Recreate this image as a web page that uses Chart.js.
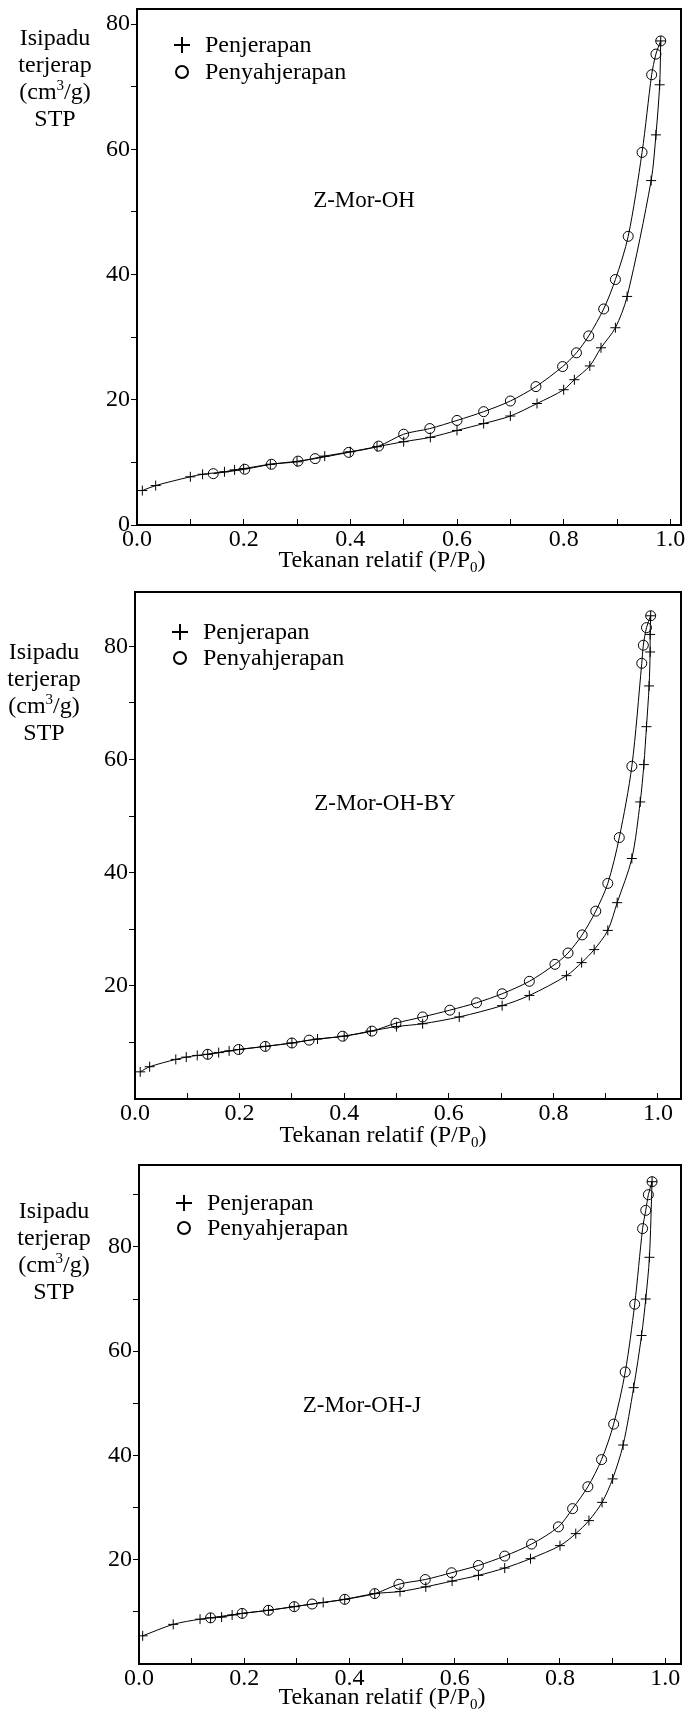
<!DOCTYPE html>
<html>
<head>
<meta charset="utf-8">
<script src="https://cdn.jsdelivr.net/npm/chart.js@4.4.0/dist/chart.umd.min.js"></script>
<style>
  body { margin: 0; background: #fff; }
  #page { position: relative; width: 687px; height: 1711px; font-family: "Liberation Serif", "Times New Roman", serif; color: #000; }
  .panel { position: absolute; left: 0; width: 687px; }
  .ytitle { position: absolute; width: 110px; margin-left: -55px; font-size: 24px; line-height: 27px; text-align: center; }
  .xtitle, .note { position: absolute; font-size: 24px; white-space: nowrap; transform: translate(-50%, -50%); }
  .note { font-size: 23px; }
  sup, sub { font-size: 15px; line-height: 0; }
</style>
</head>
<body>
<div id="page"></div>
<script>
// series names and sample names
const seriesNames = ["Penjerapan", "Penyahjerapan"];
const sampleNames = ["Z-Mor-OH", "Z-Mor-OH-BY", "Z-Mor-OH-J"];

// x axis ticks (P/P0)
const xTickValues = [0, 0.1, 0.2, 0.3, 0.4, 0.5, 0.6, 0.7, 0.8, 0.9, 1.0];
const xTickLabels = ["0.0", "", "0.2", "", "0.4", "", "0.6", "", "0.8", "", "1.0"];

// y axis ticks per panel
const yTicks1 = [0, 10, 20, 30, 40, 50, 60, 70, 80];
const yLabels1 = ["0", "", "20", "", "40", "", "60", "", "80"];
const yTicks2 = [10, 20, 30, 40, 50, 60, 70, 80];
const yLabels2 = ["", "20", "", "40", "", "60", "", "80"];
const yTicks3 = [10, 20, 30, 40, 50, 60, 70, 80, 90];
const yLabels3 = ["", "20", "", "40", "", "60", "", "80", ""];

// Z-Mor-OH
const ads1P = [0.01, 0.035, 0.1, 0.123, 0.164, 0.183, 0.2, 0.25, 0.3, 0.352, 0.4, 0.45, 0.5, 0.55, 0.6, 0.65, 0.7, 0.75, 0.8, 0.82, 0.849, 0.87, 0.897, 0.919, 0.964, 0.973, 0.98, 0.982];
const ads1V = [5.5, 6.3, 7.7, 8.1, 8.5, 8.8, 9.0, 9.7, 10.1, 11.0, 11.7, 12.5, 13.3, 14.0, 15.1, 16.2, 17.4, 19.4, 21.6, 23.2, 25.4, 28.3, 31.5, 36.5, 55.0, 62.3, 70.3, 77.3];
const des1P = [0.982, 0.973, 0.965, 0.947, 0.921, 0.897, 0.875, 0.847, 0.824, 0.798, 0.748, 0.7, 0.65, 0.6, 0.549, 0.5, 0.453, 0.397, 0.334, 0.302, 0.252, 0.202, 0.143];
const des1V = [77.3, 75.2, 71.9, 59.5, 46.1, 39.2, 34.5, 30.2, 27.5, 25.3, 22.1, 19.8, 18.1, 16.7, 15.4, 14.5, 12.6, 11.6, 10.6, 10.2, 9.7, 8.9, 8.2];

// Z-Mor-OH-BY
const ads2P = [0.01, 0.028, 0.078, 0.098, 0.119, 0.139, 0.16, 0.18, 0.2, 0.25, 0.3, 0.349, 0.4, 0.45, 0.5, 0.55, 0.62, 0.702, 0.754, 0.825, 0.854, 0.878, 0.904, 0.922, 0.95, 0.966, 0.973, 0.978, 0.983, 0.985, 0.985, 0.986];
const ads2V = [4.8, 5.7, 7.0, 7.4, 7.7, 7.9, 8.2, 8.5, 8.75, 9.3, 9.9, 10.6, 11.1, 12.0, 12.8, 13.3, 14.5, 16.5, 18.3, 21.8, 24.1, 26.4, 29.8, 34.7, 42.5, 52.5, 59.1, 65.8, 73.0, 79.0, 82.1, 85.4];
const des2P = [0.986, 0.978, 0.972, 0.969, 0.95, 0.926, 0.904, 0.881, 0.855, 0.828, 0.803, 0.754, 0.702, 0.653, 0.602, 0.55, 0.499, 0.453, 0.397, 0.333, 0.3, 0.249, 0.198, 0.139];
const des2V = [85.4, 83.3, 80.2, 77.0, 58.8, 46.2, 38.1, 33.2, 29.0, 25.8, 23.8, 20.8, 18.6, 17.0, 15.7, 14.5, 13.4, 12.0, 11.1, 10.4, 9.9, 9.3, 8.75, 7.9];

// Z-Mor-OH-J
const ads3P = [0.007, 0.065, 0.116, 0.136, 0.157, 0.177, 0.196, 0.246, 0.295, 0.35, 0.391, 0.448, 0.496, 0.545, 0.595, 0.645, 0.695, 0.744, 0.8, 0.83, 0.855, 0.88, 0.9, 0.92, 0.94, 0.955, 0.963, 0.97, 0.975];
const ads3V = [5.4, 7.6, 8.6, 8.85, 9.0, 9.4, 9.7, 10.3, 11.0, 11.8, 12.4, 13.5, 13.9, 14.8, 15.9, 17.0, 18.4, 20.2, 22.7, 25.0, 27.5, 31.0, 35.5, 42.0, 53.0, 63.0, 70.0, 78.0, 92.5];
const des3P = [0.975, 0.968, 0.963, 0.957, 0.942, 0.924, 0.902, 0.879, 0.853, 0.824, 0.797, 0.746, 0.695, 0.645, 0.594, 0.544, 0.494, 0.448, 0.391, 0.329, 0.295, 0.246, 0.196, 0.136];
const des3V = [92.5, 90.0, 87.0, 83.5, 69.0, 56.0, 46.0, 39.2, 34.0, 29.8, 26.3, 23.0, 20.7, 18.9, 17.5, 16.2, 15.3, 13.5, 12.4, 11.5, 11.0, 10.3, 9.7, 8.85];

const FONT = "'Liberation Serif', 'Times New Roman', serif";

// layout of the three panels (positions in page px)
const panels = [
  { name: sampleNames[0], ads: [ads1P, ads1V], des: [des1P, des1V], yTicks: yTicks1, yLabels: yLabels1,
    top: 0, height: 570, padTop: 9, xAxisH: 45, yAxisW: 137, xMax: 1.02, yMin: 0, yMax: 82.4,
    yTitle: { x: 55, y: 24 }, xTitle: { x: 382, y: 559 }, note: { x: 364, y: 200 }, legendRows: [36, 63] },
  { name: sampleNames[1], ads: [ads2P, ads2V], des: [des2P, des2V], yTicks: yTicks2, yLabels: yLabels2,
    top: 583, height: 560, padTop: 9, xAxisH: 44, yAxisW: 135, xMax: 1.044, yMin: 0, yMax: 89.6,
    yTitle: { x: 44, y: 638 }, xTitle: { x: 383, y: 1134 }, note: { x: 385, y: 803 }, legendRows: [40, 66] },
  { name: sampleNames[2], ads: [ads3P, ads3V], des: [des3P, des3V], yTicks: yTicks3, yLabels: yLabels3,
    top: 1156, height: 555, padTop: 9, xAxisH: 47, yAxisW: 139, xMax: 1.03, yMin: 0, yMax: 95.7,
    yTitle: { x: 54, y: 1197 }, xTitle: { x: 382, y: 1696 }, note: { x: 362, y: 1405 }, legendRows: [38, 63] }
];

function toPoints(xs, ys) {
  return xs.map((x, i) => ({ x: x, y: ys[i] }));
}

// frame round the plot area
const boxPlugin = {
  id: "box",
  afterDraw(chart) {
    const { ctx, chartArea: a } = chart;
    ctx.save();
    ctx.strokeStyle = "#000";
    ctx.lineWidth = 2;
    ctx.strokeRect(a.left, a.top, a.right - a.left, a.bottom - a.top);
    ctx.restore();
  }
};

// legend drawn inside the plot, top left
const innerLegend = {
  id: "innerLegend",
  afterDraw(chart, args, opts) {
    const { ctx, chartArea: a } = chart;
    ctx.save();
    ctx.strokeStyle = "#000";
    ctx.lineWidth = 2;
    ctx.font = "24px " + FONT;
    ctx.textBaseline = "middle";
    chart.data.datasets.forEach((ds, i) => {
      const cx = a.left + 45;
      const cy = a.top + opts.rows[i];
      ctx.beginPath();
      if (ds.pointStyle === "cross") {
        ctx.moveTo(cx - 8, cy); ctx.lineTo(cx + 8, cy);
        ctx.moveTo(cx, cy - 8); ctx.lineTo(cx, cy + 8);
      } else {
        ctx.arc(cx, cy, 6, 0, Math.PI * 2);
      }
      ctx.stroke();
      ctx.fillStyle = "#000";
      ctx.fillText(ds.label, a.left + 68, cy + 1);
    });
    ctx.restore();
  }
};

const page = document.getElementById("page");

panels.forEach((p) => {
  const wrap = document.createElement("div");
  wrap.className = "panel";
  wrap.style.top = p.top + "px";
  wrap.style.height = p.height + "px";
  const canvas = document.createElement("canvas");
  wrap.appendChild(canvas);
  page.appendChild(wrap);

  const yt = document.createElement("div");
  yt.className = "ytitle";
  yt.style.left = p.yTitle.x + "px";
  yt.style.top = p.yTitle.y + "px";
  yt.innerHTML = "Isipadu<br>terjerap<br>(cm<sup>3</sup>/g)<br>STP";
  page.appendChild(yt);

  const xt = document.createElement("div");
  xt.className = "xtitle";
  xt.style.left = p.xTitle.x + "px";
  xt.style.top = p.xTitle.y + "px";
  xt.innerHTML = "Tekanan relatif (P/P<sub>0</sub>)";
  page.appendChild(xt);

  const note = document.createElement("div");
  note.className = "note";
  note.style.left = p.note.x + "px";
  note.style.top = p.note.y + "px";
  note.textContent = p.name;
  page.appendChild(note);

  new Chart(canvas, {
    type: "scatter",
    data: {
      datasets: [
        {
          label: seriesNames[0],
          data: toPoints(p.ads[0], p.ads[1]),
          showLine: true,
          borderColor: "#000",
          borderWidth: 1,
          tension: 0.3,
          pointStyle: "cross",
          pointRadius: 5,
          pointBorderWidth: 1,
          pointBorderColor: "#000",
          pointBackgroundColor: "rgba(0,0,0,0)",
        },
        {
          label: seriesNames[1],
          data: toPoints(p.des[0], p.des[1]),
          showLine: true,
          borderColor: "#000",
          borderWidth: 1,
          tension: 0.3,
          pointStyle: "circle",
          pointRadius: 5,
          pointBorderWidth: 1,
          pointBorderColor: "#000",
          pointBackgroundColor: "rgba(0,0,0,0)",
        },
      ],
    },
    options: {
      responsive: true,
      maintainAspectRatio: false,
      animation: false,
      layout: { padding: { top: p.padTop, right: 6, left: 0, bottom: 0 } },
      scales: {
        x: {
          type: "linear",
          min: 0,
          max: p.xMax,
          afterBuildTicks: (s) => { s.ticks = xTickValues.map((v) => ({ value: v })); },
          afterFit: (s) => { s.height = p.xAxisH; s.paddingLeft = 0; s.paddingRight = 0; },
          ticks: {
            callback: (v, i) => xTickLabels[i],
            font: { family: FONT, size: 24 },
            color: "#000",
            padding: 6,
            maxRotation: 0,
            autoSkip: false,
          },
          grid: { drawOnChartArea: false, tickLength: -6, color: "#000", lineWidth: 1 },
          border: { display: false },
        },
        y: {
          type: "linear",
          min: p.yMin,
          max: p.yMax,
          afterBuildTicks: (s) => { s.ticks = p.yTicks.map((v) => ({ value: v })); },
          afterFit: (s) => { s.width = p.yAxisW; s.paddingTop = 0; s.paddingBottom = 0; },
          ticks: {
            callback: (v, i) => p.yLabels[i],
            font: { family: FONT, size: 24 },
            color: "#000",
            padding: 1,
            autoSkip: false,
          },
          grid: { drawOnChartArea: false, tickLength: 6, color: "#000", lineWidth: 1 },
          border: { display: false },
        },
      },
      plugins: {
        legend: { display: false },
        tooltip: { enabled: false },
        innerLegend: { rows: p.legendRows },
      },
    },
    plugins: [boxPlugin, innerLegend],
  });
});
</script>
</body>
</html>
